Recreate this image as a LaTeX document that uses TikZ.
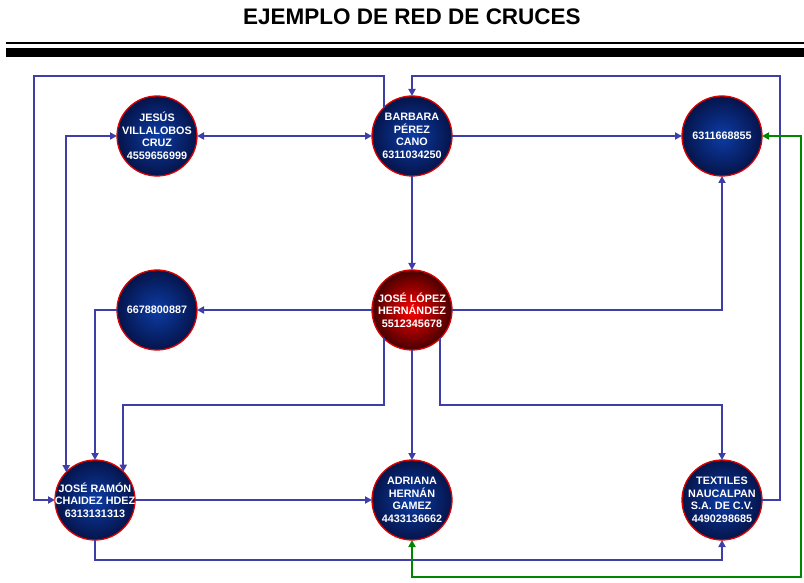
\documentclass[tikz,border=0pt]{standalone}
\usepackage{fontspec}
\setmainfont{Liberation Sans}
\usetikzlibrary{positioning,arrows.meta}

\definecolor{linkblue}{RGB}{62,62,168}
\definecolor{crossgreen}{RGB}{0,135,0}
\definecolor{ringred}{RGB}{220,0,0}
\definecolor{navyin}{RGB}{12,60,165}
\definecolor{navyout}{RGB}{5,20,75}
\definecolor{redin}{RGB}{255,0,0}
\definecolor{redout}{RGB}{70,0,0}

\begin{document}
\begin{tikzpicture}
    [x=1pt,y=1pt,
     num/.style={circle,draw=ringred,line width=1.3pt,inner color=navyin,outer color=navyout,
       minimum size=80pt,inner sep=-8pt,outer sep=0pt,align=center,text=white,
       font=\bfseries\fontsize{10.8}{12.5}\selectfont},
     hub/.style={num,inner color=redin,outer color=redout},
     link/.style={draw=linkblue,line width=2.2pt,->},
     cross/.style={draw=crossgreen,line width=2.2pt,<->},
     >={Triangle[length=7pt,width=7pt]}]

    \useasboundingbox (0,0) rectangle (804,582);

    \node[font=\bfseries\fontsize{22.5}{26}\selectfont] (title) at (412,565) {EJEMPLO DE RED DE CRUCES};
    \fill (6,537.7) rectangle (804,540.3);
    \fill (6,525.3) rectangle (804,533.7);

    \node[num] (barbara) at (412,446) {BARBARA\\PÉREZ\\CANO\\6311034250};
    \node[num] (jesus) [left=175pt of barbara] {JESÚS\\VILLALOBOS\\CRUZ\\4559656999};
    \node[num] (tel1) [right=230pt of barbara] {6311668855};
    \node[hub] (lopez) [below=94pt of barbara] {JOSÉ LÓPEZ\\HERNÁNDEZ\\5512345678};
    \node[num] (tel2) [left=175pt of lopez] {6678800887};
    \node[num] (adriana) [below=110pt of lopez] {ADRIANA\\HERNÁN\\GAMEZ\\4433136662};
    \node[num] (ramon) [left=237pt of adriana] {JOSÉ RAMÓN\\CHAIDEZ HDEZ\\6313131313};
    \node[num] (textiles) [right=230pt of adriana] {TEXTILES\\NAUCALPAN\\S.A. DE C.V.\\4490298685};

    \draw[link,<->] (jesus) -- (barbara);
    \draw[link] (barbara) -- (tel1);
    \draw[link] (barbara) -- (lopez);
    \draw[link] (barbara.north west) -- ++(0,32) -| ([xshift=-21pt]ramon.west) -- (ramon.west);
    \draw[link,<->] (jesus.west) -| (ramon.136);
    \draw[link] (tel2.west) -| (ramon.north);
    \draw[link] (lopez) -- (tel2);
    \draw[link] (lopez) -- (adriana);
    \draw[link] (lopez.east) -| (tel1.south);
    \draw[link] (lopez.south west) -- ++(0,-67) -| (ramon.north east);
    \draw[link] (lopez.south east) -- ++(0,-67) -| (textiles.north);
    \draw[link] (ramon) -- (adriana);
    \draw[link] (ramon.south) -- ++(0,-20) -| (textiles.south);
    \draw[link] (textiles.east) -- ++(18,0) |- ([yshift=20pt]barbara.north) -- (barbara.north);
    \draw[cross] (tel1.east) -- ++(39,0) |- ([yshift=-37pt]adriana.south) -- (adriana.south);
\end{tikzpicture}
\end{document}
